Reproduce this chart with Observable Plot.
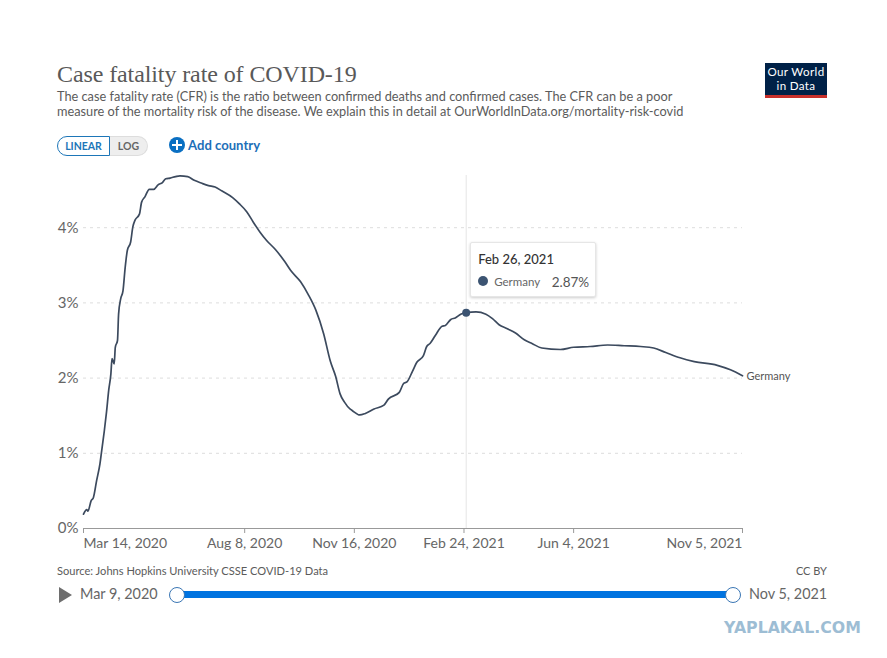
<!DOCTYPE html>
<html>
<head>
<meta charset="utf-8">
<script src="https://cdn.jsdelivr.net/npm/d3@7"></script>
<script src="https://cdn.jsdelivr.net/npm/@observablehq/plot@0.6"></script>
<style>
html,body{margin:0;padding:0;background:#fff;}
#page{position:relative;width:887px;height:658px;overflow:hidden;font-family:Lato,sans-serif;color:#5b5b5b;}
#page>*{position:absolute;white-space:nowrap;}
#chart{left:0;top:165px;}
#chart svg{display:block;}
#title{left:57px;top:59px;font:24px/30px "Liberation Serif",serif;letter-spacing:-.1px;color:#595959;}
#subtitle{left:57px;top:88.5px;font-size:12.75px;line-height:15px;color:#5b5b5b;}
#logo{left:765px;top:63px;width:62px;height:35px;background:#002147;border-bottom:3px solid #c8302b;box-sizing:border-box;color:#fff;font-size:11.6px;letter-spacing:.35px;line-height:14px;text-align:center;padding-top:2px;}
#linear{left:57px;top:136px;width:53px;height:20px;box-sizing:border-box;border:1px solid #1d76b8;border-radius:10px 0 0 10px;color:#1d76b8;font-size:10.5px;font-weight:700;line-height:18px;text-align:center;}
#log{left:110px;top:136px;width:38px;height:20px;box-sizing:border-box;border:1px solid #ddd;border-left:0;border-radius:0 10px 10px 0;background:#eee;color:#666;font-size:10.5px;font-weight:700;line-height:18px;text-align:center;}
#plus{left:169px;top:137px;width:16px;height:16px;border-radius:50%;background:#0a6fc2;}
#plus::before{content:"";position:absolute;left:3px;top:7px;width:10px;height:2px;background:#fff;}
#plus::after{content:"";position:absolute;left:7px;top:3px;width:2px;height:10px;background:#fff;}
#add{left:188px;top:137px;font-size:13.1px;font-weight:700;line-height:16px;color:#1d6fb8;}
#tooltip{width:126px;height:55px;box-sizing:border-box;background:#fff;border:1px solid #e6e6e6;box-shadow:0 1px 3px rgba(0,0,0,.2);border-radius:2px;}
#tooltip>*{position:absolute;white-space:nowrap;}
#ttdate{left:7px;top:8px;font-size:13px;line-height:16px;font-weight:500;color:#333;}
#ttdot{left:7px;top:33px;width:10px;height:10px;border-radius:50%;background:#3c5472;}
#ttname{left:23px;top:32px;font-size:11.5px;line-height:14px;color:#666;}
#ttval{right:6px;top:31px;font-size:13.5px;line-height:16px;color:#555;}
#source{left:57px;top:564px;font-size:11.1px;line-height:13px;color:#5b5b5b;}
#cc{right:60px;top:564px;font-size:11px;line-height:13px;color:#5b5b5b;}
#play{left:59px;top:587px;width:0;height:0;border-left:13px solid #6e6e6e;border-top:8px solid transparent;border-bottom:8px solid transparent;}
#startd{left:80px;top:585px;font-size:14.4px;line-height:18px;color:#666;}
#endd{left:749px;top:585px;font-size:14.4px;line-height:18px;color:#666;}
#track{left:177px;top:591px;width:556px;height:7px;background:#0073e0;}
.knob{top:587px;width:16px;height:16px;box-sizing:border-box;border-radius:50%;background:#fff;border:1.5px solid #3a76b4;}
#mark{left:724px;top:620px;font:bold 15.75px/16px "DejaVu Sans",sans-serif;color:#9dbdd4;}
</style>
</head>
<body>
<div id="page">
  <div id="title">Case fatality rate of COVID-19</div>
  <div id="subtitle">The case fatality rate (CFR) is the ratio between confirmed deaths and confirmed cases. The CFR can be a poor<br>measure of the mortality risk of the disease. We explain this in detail at OurWorldInData.org/mortality-risk-covid</div>
  <div id="logo">Our World<br>in Data</div>
  <div id="linear">LINEAR</div>
  <div id="log">LOG</div>
  <div id="plus"></div>
  <div id="add">Add country</div>
  <div id="chart"></div>
  <div id="source">Source: Johns Hopkins University CSSE COVID-19 Data</div>
  <div id="cc">CC BY</div>
  <div id="play"></div>
  <div id="startd">Mar 9, 2020</div>
  <div id="track"></div>
  <div class="knob" style="left:169px"></div>
  <div class="knob" style="left:725px"></div>
  <div id="endd">Nov 5, 2021</div>
  <div id="mark">YAPLAKAL.COM</div>
</div>
<script>
const startDate = "2020-03-14";
const endDate = "2021-11-05";
const daysSinceStart = [0,3,4,7,9,12,15,17,19,21,23,25,26,28,29,31,32,34,36,38,40,43,45,47,51,53,56,60,64,68,72,75,79,84,88,95,101,108,114,120,126,136,142,149,155,161,167,175,183,189,198,205,212,219,225,230,234,238,243,245,252,257,265,274,278,288,292,295,300,304,310,313,316,321,327,330,335,339,344,349,358,367,373,379,386,394,402,409,418,435,447,462,478,493,508,520,531,544,557,578,590,601];
const cfrGermany = [0.19,0.25,0.23,0.37,0.41,0.64,0.86,1.08,1.30,1.55,1.84,2.06,2.26,2.19,2.41,2.50,2.85,3.06,3.16,3.47,3.70,3.81,4.01,4.10,4.18,4.34,4.41,4.51,4.51,4.57,4.60,4.65,4.66,4.68,4.69,4.68,4.63,4.59,4.56,4.54,4.49,4.40,4.32,4.21,4.07,3.94,3.83,3.71,3.56,3.43,3.28,3.11,2.90,2.59,2.23,2.02,1.79,1.68,1.59,1.57,1.51,1.53,1.59,1.64,1.72,1.81,1.93,1.95,2.09,2.21,2.30,2.42,2.46,2.57,2.69,2.70,2.78,2.80,2.85,2.87,2.88,2.85,2.79,2.71,2.66,2.60,2.51,2.46,2.40,2.38,2.41,2.42,2.44,2.43,2.42,2.40,2.34,2.27,2.22,2.17,2.11,2.03];
const firstTick = ["2020-03-14"];
const middleTicks = ["2020-08-08","2020-11-16","2021-02-24","2021-06-04"];
const lastTick = ["2021-11-05"];
const yTicks = [0,1,2,3,4];
const gridValues = [1,2,3,4];
const hoverDate = "2021-02-26";
const hoverValue = 2.87;
const seriesName = "Germany";

const start = new Date(startDate);
const rows = daysSinceStart.map((d, i) => ({date: d3.utcDay.offset(start, d), value: cfrGermany[i]}));
const last = rows[rows.length - 1];
const fmt = d3.utcFormat("%b %-d, %Y");
const toDates = a => a.map(s => new Date(s));
const axisStyle = {tickSize: 5, tickPadding: 5, tickFormat: fmt, label: null, anchor: "bottom", fontSize: 14, color: "#666", stroke: "#999"};

const plot = Plot.plot({
  width: 887,
  height: 395,
  marginLeft: 83,
  marginRight: 145,
  marginTop: 10,
  marginBottom: 32,
  style: {fontFamily: "Lato, sans-serif", background: "transparent", overflow: "visible"},
  x: {type: "utc", domain: [start, new Date(endDate)]},
  y: {domain: [0, 4.694]},
  marks: [
    Plot.ruleY(gridValues, {stroke: "#ddd", strokeDasharray: "3,4"}),
    Plot.ruleX([new Date(hoverDate)], {stroke: "#e5e5e5", strokeWidth: 1}),
    Plot.ruleY([0], {stroke: "#999"}),
    Plot.axisY({ticks: yTicks, tickSize: 0, tickPadding: 5, tickFormat: d => d + "%", label: null, fontSize: 15, color: "#666"}),
    Plot.axisX({...axisStyle, ticks: toDates(firstTick), textAnchor: "start"}),
    Plot.axisX({...axisStyle, ticks: toDates(middleTicks)}),
    Plot.axisX({...axisStyle, ticks: toDates(lastTick), textAnchor: "end"}),
    Plot.line(rows, {x: "date", y: "value", stroke: "#3c4a5e", strokeWidth: 1.7, curve: "monotone-x"}),
    Plot.dot([{date: new Date(hoverDate), value: hoverValue}], {x: "date", y: "value", r: 4, fill: "#3c5472", stroke: "none"}),
    Plot.text([last], {x: "date", y: "value", text: () => seriesName, textAnchor: "start", dx: 4, dy: 1, fontSize: 11, fill: "#555"})
  ]
});
document.getElementById("chart").appendChild(plot);

const px = plot.scale("x").apply(new Date(hoverDate));
const py = plot.scale("y").apply(hoverValue);
const tip = document.createElement("div");
tip.id = "tooltip";
tip.style.left = (px + 4.5) + "px";
tip.style.top = (165 + py - 70.5) + "px";
tip.innerHTML = '<div id="ttdate"></div><div id="ttdot"></div><div id="ttname"></div><div id="ttval"></div>';
document.getElementById("page").appendChild(tip);
document.getElementById("ttdate").textContent = fmt(new Date(hoverDate));
document.getElementById("ttname").textContent = seriesName;
document.getElementById("ttval").textContent = hoverValue.toFixed(2) + "%";
</script>
</body>
</html>
